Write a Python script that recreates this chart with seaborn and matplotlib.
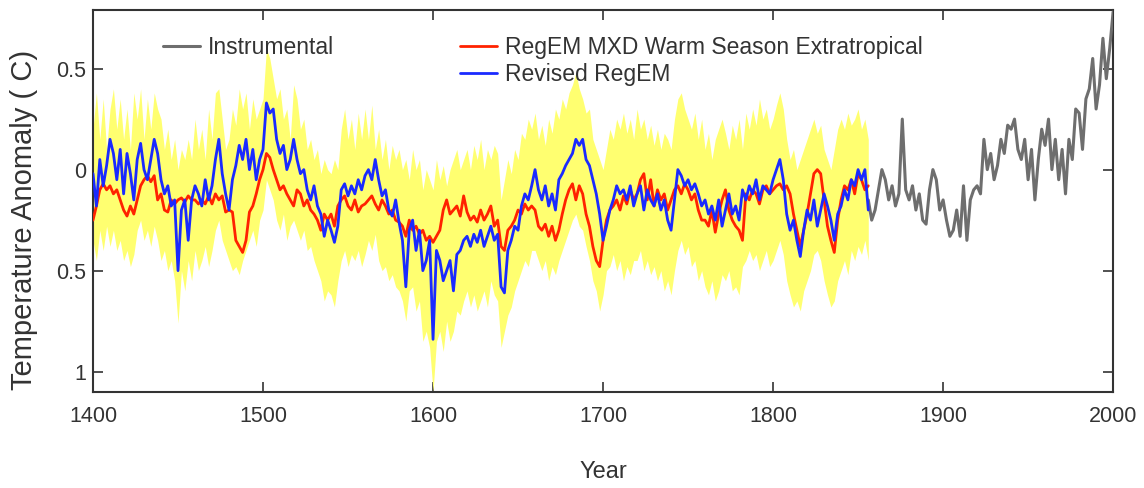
import numpy as np
import pandas as pd
import matplotlib
matplotlib.use("Agg")
import matplotlib.pyplot as plt
import seaborn as sns

# ---------------- data ----------------
proxy_years = list(range(1400, 1857, 2))

revised_regem = [
    -0.02, -0.18, 0.05, -0.08, 0.02, 0.15, 0.08, -0.05, 0.10, -0.12,
    0.08, -0.02, -0.15, 0.05, 0.13, 0.00, -0.05, 0.05, 0.15, 0.08,
    -0.05, -0.12, -0.08, -0.18, -0.15, -0.50, -0.20, -0.15, -0.35, -0.15,
    -0.08, -0.12, -0.18, -0.05, -0.15, -0.08, 0.05, 0.15, -0.02, -0.12,
    -0.20, -0.05, 0.02, 0.12, 0.05, 0.15, 0.00, 0.10, -0.05, 0.05,
    0.10, 0.33, 0.28, 0.30, 0.15, 0.08, 0.12, 0.00, 0.05, 0.15,
    0.05, -0.02, 0.00, -0.10, -0.15, -0.08, -0.18, -0.22, -0.33, -0.25,
    -0.30, -0.36, -0.28, -0.10, -0.07, -0.13, -0.08, -0.12, -0.05, -0.10,
    -0.03, 0.00, -0.05, 0.05, -0.05, -0.13, -0.10, -0.20, -0.23, -0.15,
    -0.26, -0.35, -0.58, -0.30, -0.25, -0.40, -0.30, -0.50, -0.45, -0.35,
    -0.84, -0.40, -0.45, -0.55, -0.50, -0.45, -0.60, -0.42, -0.40, -0.35,
    -0.33, -0.38, -0.32, -0.36, -0.30, -0.38, -0.33, -0.28, -0.35, -0.32,
    -0.58, -0.61, -0.40, -0.35, -0.28, -0.30, -0.18, -0.12, -0.15, -0.08,
    0.00, -0.10, -0.15, -0.08, -0.18, -0.12, -0.20, -0.05, -0.02, 0.02,
    0.05, 0.08, 0.15, 0.12, 0.15, 0.05, 0.02, -0.05, -0.12, -0.22,
    -0.35, -0.28, -0.20, -0.15, -0.08, -0.12, -0.10, -0.15, -0.08, -0.18,
    -0.12, -0.08, -0.20, -0.10, -0.15, -0.18, -0.12, -0.20, -0.15, -0.25,
    -0.30, -0.15, 0.00, -0.03, -0.08, -0.05, -0.10, -0.07, -0.12, -0.18,
    -0.15, -0.22, -0.18, -0.25, -0.15, -0.28, -0.20, -0.12, -0.22, -0.18,
    -0.25, -0.10, -0.15, -0.08, -0.12, -0.05, -0.15, -0.08, -0.10, -0.12,
    -0.05, 0.00, 0.05, -0.05, -0.22, -0.30, -0.25, -0.35, -0.43, -0.30,
    -0.20, -0.25, -0.15, -0.28, -0.20, -0.12, -0.18, -0.25, -0.35, -0.22,
    -0.18, -0.10, -0.15, -0.05, -0.08, 0.00, -0.05, 0.00, -0.20,
]

regem_mxd = [
    -0.25, -0.18, -0.10, -0.07, -0.10, -0.08, -0.12, -0.10, -0.15, -0.20,
    -0.23, -0.18, -0.22, -0.15, -0.08, -0.05, -0.03, -0.06, -0.03, -0.15,
    -0.12, -0.20, -0.21, -0.15, -0.17, -0.15, -0.14, -0.16, -0.13, -0.15,
    -0.15, -0.17, -0.15, -0.17, -0.13, -0.17, -0.12, -0.15, -0.13, -0.21,
    -0.20, -0.21, -0.35, -0.38, -0.41, -0.35, -0.21, -0.18, -0.12, -0.05,
    0.00, 0.08, 0.06, 0.00, -0.05, -0.10, -0.08, -0.12, -0.15, -0.18,
    -0.10, -0.12, -0.18, -0.15, -0.20, -0.22, -0.25, -0.30, -0.22, -0.25,
    -0.22, -0.28, -0.18, -0.15, -0.13, -0.18, -0.20, -0.15, -0.21, -0.18,
    -0.17, -0.15, -0.13, -0.17, -0.20, -0.15, -0.18, -0.22, -0.20, -0.25,
    -0.26, -0.28, -0.33, -0.25, -0.30, -0.28, -0.32, -0.30, -0.35, -0.33,
    -0.36, -0.33, -0.30, -0.20, -0.15, -0.22, -0.20, -0.18, -0.23, -0.13,
    -0.21, -0.25, -0.23, -0.26, -0.20, -0.25, -0.22, -0.18, -0.28, -0.25,
    -0.38, -0.40, -0.30, -0.28, -0.25, -0.20, -0.22, -0.17, -0.20, -0.18,
    -0.20, -0.28, -0.30, -0.27, -0.33, -0.28, -0.35, -0.30, -0.22, -0.15,
    -0.10, -0.07, -0.15, -0.08, -0.12, -0.22, -0.28, -0.38, -0.45, -0.48,
    -0.35, -0.25, -0.20, -0.18, -0.15, -0.20, -0.13, -0.17, -0.10, -0.15,
    -0.12, -0.05, -0.02, -0.15, -0.05, -0.18, -0.10, -0.15, -0.12, -0.20,
    -0.15, -0.10, -0.08, -0.12, -0.07, -0.10, -0.15, -0.12, -0.20, -0.25,
    -0.25, -0.28, -0.20, -0.31, -0.22, -0.15, -0.10, -0.20, -0.25, -0.28,
    -0.30, -0.35, -0.12, -0.15, -0.10, -0.12, -0.17, -0.10, -0.08, -0.12,
    -0.10, -0.08, -0.07, -0.10, -0.08, -0.12, -0.22, -0.30, -0.38, -0.30,
    -0.22, -0.12, -0.02, 0.00, -0.02, -0.15, -0.28, -0.35, -0.41, -0.25,
    -0.15, -0.08, -0.10, -0.05, -0.12, -0.02, -0.05, -0.10, -0.08,
]

band_upper = [
    0.20, 0.38, 0.15, 0.35, 0.10, 0.30, 0.40, 0.20, 0.35, 0.15,
    0.30, 0.10, 0.38, 0.25, 0.40, 0.15, 0.35, 0.20, 0.38, 0.30,
    0.25, 0.10, 0.20, 0.05, 0.15, 0.00, 0.10, 0.05, 0.15, 0.05,
    0.25, 0.10, 0.20, 0.05, 0.30, 0.15, 0.38, 0.40, 0.25, 0.10,
    0.15, 0.30, 0.22, 0.40, 0.30, 0.38, 0.20, 0.35, 0.25, 0.30,
    0.35, 0.60, 0.55, 0.45, 0.35, 0.40, 0.25, 0.30, 0.15, 0.42,
    0.35, 0.20, 0.25, 0.10, 0.15, 0.05, 0.10, -0.02, 0.05, 0.00,
    -0.02, 0.05, 0.00, 0.20, 0.30, 0.15, 0.25, 0.10, 0.28, 0.15,
    0.30, 0.15, 0.32, 0.10, 0.20, 0.05, 0.15, 0.00, 0.12, 0.05,
    0.10, 0.00, 0.05, -0.05, 0.10, 0.00, 0.05, -0.10, 0.00, -0.05,
    -0.10, 0.05, -0.05, 0.02, -0.08, 0.00, 0.05, 0.10, 0.00, 0.05,
    0.10, 0.00, 0.12, 0.05, 0.15, 0.00, 0.10, 0.05, 0.12, 0.08,
    -0.15, -0.05, 0.05, -0.02, 0.10, 0.05, 0.18, 0.15, 0.25, 0.20,
    0.28, 0.15, 0.22, 0.12, 0.25, 0.18, 0.30, 0.25, 0.35, 0.30,
    0.38, 0.42, 0.48, 0.40, 0.35, 0.28, 0.30, 0.15, 0.10, 0.05,
    0.00, 0.10, 0.20, 0.15, 0.25, 0.20, 0.28, 0.18, 0.25, 0.15,
    0.30, 0.20, 0.25, 0.15, 0.22, 0.12, 0.20, 0.10, 0.18, 0.15,
    0.10, 0.25, 0.35, 0.38, 0.30, 0.25, 0.20, 0.28, 0.15, 0.25,
    0.10, 0.18, 0.05, 0.15, 0.20, 0.25, 0.18, 0.10, 0.22, 0.15,
    0.25, 0.10, 0.28, 0.20, 0.30, 0.22, 0.35, 0.25, 0.30, 0.20,
    0.25, 0.32, 0.38, 0.30, 0.15, 0.05, 0.10, 0.00, 0.05, 0.10,
    0.15, 0.20, 0.25, 0.18, 0.22, 0.10, 0.05, 0.00, 0.10, 0.20,
    0.25, 0.20, 0.28, 0.22, 0.25, 0.30, 0.20, 0.25, 0.15,
]

band_lower = [
    -0.35, -0.45, -0.30, -0.40, -0.28, -0.38, -0.30, -0.40, -0.35, -0.45,
    -0.40, -0.48, -0.42, -0.30, -0.25, -0.35, -0.30, -0.38, -0.28, -0.35,
    -0.45, -0.40, -0.50, -0.45, -0.55, -0.76, -0.50, -0.60, -0.45, -0.55,
    -0.40, -0.50, -0.45, -0.38, -0.48, -0.40, -0.30, -0.25, -0.35, -0.40,
    -0.45, -0.50, -0.48, -0.52, -0.45, -0.40, -0.35, -0.30, -0.38, -0.25,
    -0.20, -0.05, -0.10, -0.15, -0.25, -0.30, -0.22, -0.35, -0.28, -0.25,
    -0.30, -0.35, -0.30, -0.40, -0.38, -0.45, -0.50, -0.55, -0.65, -0.60,
    -0.62, -0.68, -0.55, -0.45, -0.40, -0.48, -0.42, -0.45, -0.40, -0.48,
    -0.42, -0.35, -0.40, -0.32, -0.45, -0.50, -0.48, -0.55, -0.52, -0.58,
    -0.60, -0.65, -0.75, -0.60, -0.58, -0.70, -0.65, -0.85, -0.80, -0.88,
    -1.10, -0.85, -0.80, -0.90, -0.75, -0.85, -0.80, -0.70, -0.72, -0.65,
    -0.60, -0.68, -0.62, -0.70, -0.65, -0.60, -0.68, -0.55, -0.62, -0.65,
    -0.88, -0.80, -0.72, -0.68, -0.60, -0.55, -0.50, -0.45, -0.48, -0.40,
    -0.40, -0.45, -0.50, -0.45, -0.55, -0.48, -0.52, -0.45, -0.40, -0.35,
    -0.30, -0.25, -0.22, -0.28, -0.30, -0.38, -0.45, -0.55, -0.60, -0.70,
    -0.62, -0.50, -0.48, -0.42, -0.50, -0.45, -0.55, -0.48, -0.52, -0.45,
    -0.45, -0.40, -0.50, -0.45, -0.52, -0.48, -0.55, -0.50, -0.60, -0.55,
    -0.62, -0.50, -0.40, -0.35, -0.42, -0.38, -0.48, -0.45, -0.55, -0.50,
    -0.58, -0.62, -0.55, -0.65, -0.60, -0.52, -0.55, -0.50, -0.60, -0.58,
    -0.62, -0.48, -0.45, -0.40, -0.45, -0.42, -0.50, -0.45, -0.40, -0.48,
    -0.45, -0.40, -0.35, -0.42, -0.55, -0.62, -0.68, -0.65, -0.70, -0.60,
    -0.55, -0.50, -0.42, -0.40, -0.45, -0.55, -0.62, -0.68, -0.65, -0.55,
    -0.50, -0.45, -0.52, -0.40, -0.45, -0.38, -0.42, -0.35, -0.45,
]

instr_years = list(range(1856, 2001, 2))
instrumental = [
    -0.15, -0.25, -0.20, -0.10, 0.00, -0.05, -0.15, -0.08, -0.18, -0.12,
    0.25, -0.10, -0.15, -0.08, -0.20, -0.12, -0.25, -0.27, -0.10, 0.00,
    -0.05, -0.20, -0.15, -0.25, -0.33, -0.30, -0.20, -0.33, -0.08, -0.35,
    -0.15, -0.10, -0.08, -0.12, 0.15, 0.00, 0.08, -0.05, 0.02, 0.15,
    0.08, 0.22, 0.20, 0.25, 0.10, 0.05, 0.15, -0.05, 0.10, -0.15,
    0.05, 0.20, 0.12, 0.25, 0.00, 0.15, -0.05, 0.10, -0.12, 0.15,
    0.05, 0.30, 0.28, 0.10, 0.35, 0.40, 0.55, 0.30, 0.42, 0.65,
    0.45, 0.60, 0.78,
]

x_ticks = [1400, 1500, 1600, 1700, 1800, 1900, 2000]
y_ticks = [0.5, 0.0, -0.5, -1.0]
y_tick_labels = ["0.5", "0", "0.5", "1"]

label_instr = "Instrumental"
label_mxd = "RegEM MXD Warm Season Extratropical"
label_rev = "Revised RegEM"

# ---------------- plot ----------------
sns.set_style("ticks")
plt.rcParams["font.family"] = ["Liberation Sans", "DejaVu Sans"]

proxy = pd.DataFrame({"year": proxy_years, "mxd": regem_mxd, "rev": revised_regem,
                      "upper": band_upper, "lower": band_lower})
instr = pd.DataFrame({"year": instr_years, "temp": instrumental})

fig = plt.figure(figsize=(11.44, 4.88), dpi=100)
ax = fig.add_axes([0.0813, 0.197, 0.8917, 0.7825])

ax.fill_between(proxy["year"], proxy["lower"], proxy["upper"],
                color="#ffff70", linewidth=0, zorder=1)
sns.lineplot(data=instr, x="year", y="temp", ax=ax, color="#6e6e6e",
             linewidth=2.2, label=label_instr, zorder=3)
sns.lineplot(data=proxy, x="year", y="mxd", ax=ax, color="#ff2200",
             linewidth=2.0, label=label_mxd, zorder=3)
sns.lineplot(data=proxy, x="year", y="rev", ax=ax, color="#1a2aff",
             linewidth=2.0, label=label_rev, zorder=4)

ax.set_xlim(1400, 2000)
ax.set_ylim(-1.1, 0.79)
ax.set_xticks(x_ticks)
ax.set_yticks(y_ticks)
ax.set_yticklabels(y_tick_labels)
ax.tick_params(direction="in", length=7, width=1.2, top=True, right=True,
               labeltop=False, labelright=False, labelsize=15.5, colors="#333333")
ax.tick_params(axis="x", pad=10)
ax.tick_params(axis="y", pad=5)
for s in ax.spines.values():
    s.set_linewidth(1.5)
    s.set_color("#333333")

ax.set_xlabel("Year", fontsize=17, color="#333333")
ax.xaxis.set_label_coords(0.5, -0.18)
ax.set_ylabel("Temperature Anomaly ( C)", fontsize=21, color="#333333")
ax.yaxis.set_label_coords(-0.054, 0.45)

handles, labels = ax.get_legend_handles_labels()
if ax.legend_ is not None:
    ax.legend_.remove()
leg1 = ax.legend([handles[0]], [labels[0]], loc="upper left",
                 bbox_to_anchor=(0.0686, 0.933), frameon=False, fontsize=16.5,
                 handlelength=1.6, handletextpad=0.35, borderpad=0,
                 borderaxespad=0, labelcolor="#333333")
ax.add_artist(leg1)
ax.legend(handles[1:], labels[1:], loc="upper left", bbox_to_anchor=(0.36, 0.933),
          frameon=False, fontsize=16.5, handlelength=1.6, handletextpad=0.35,
          borderpad=0, borderaxespad=0, labelspacing=0.2, labelcolor="#333333")

fig.savefig("out.png", dpi=100)
